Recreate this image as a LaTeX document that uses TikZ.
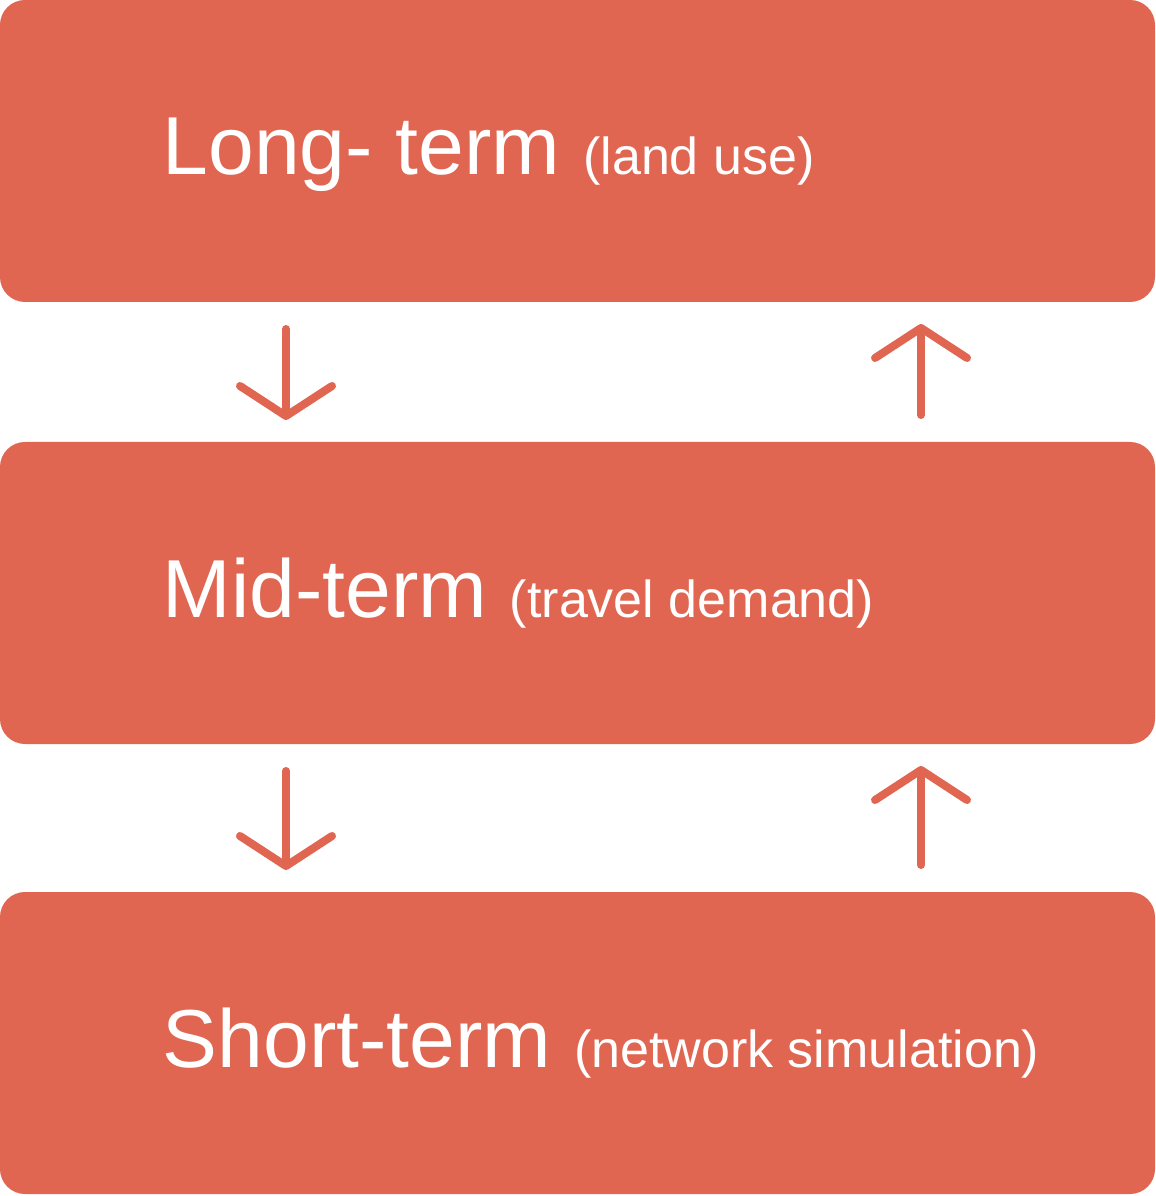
\documentclass[tikz,border=0pt]{standalone}
\usepackage{fontspec}
\setmainfont{Liberation Sans}
\usetikzlibrary{arrows.meta, positioning}
\definecolor{termred}{RGB}{224,102,81}
\newcommand{\subtxt}[1]{{\fontsize{14.8}{16}\selectfont #1}}

\begin{document}
\begin{tikzpicture}[
    node distance=1.4cm,
    box/.style={rectangle, fill=termred, rounded corners=0.25cm, minimum width=11.55cm, minimum height=3.02cm, inner sep=0pt, outer sep=0pt},
    title/.style={text=white, font=\fontsize{23.4}{26}\selectfont, inner sep=0pt, anchor=base west},
    arrow/.style={-{Straight Barb[length=3mm, width=9.2mm, line cap=round, line join=round]}, line width=0.8mm, line cap=round, draw=termred, shorten <=2.7mm, shorten >=2.2mm}
]
\useasboundingbox (0,0) rectangle (11.55,-11.96);

\node[box] (long) at (5.775,-1.51) {};
\node[box, below=1.40cm of long] (mid) {};
\node[box, below=1.48cm of mid] (short) {};

\node[title] (longtxt) at ([xshift=1.62cm, yshift=-0.24cm]long.west) {Long- term \subtxt{(land use)}};
\node[title] (midtxt) at ([xshift=1.62cm, yshift=-0.24cm]mid.west) {Mid-term \subtxt{(travel demand)}};
\node[title] (shorttxt) at ([xshift=1.62cm, yshift=-0.24cm]short.west) {Short-term \subtxt{(network simulation)}};

\draw[arrow] ([xshift=2.86cm]long.south west) -- ([xshift=2.86cm]mid.north west);
\draw[arrow] ([xshift=9.21cm]mid.north west) -- ([xshift=9.21cm]long.south west);
\draw[arrow] ([xshift=2.86cm]mid.south west) -- ([xshift=2.86cm]short.north west);
\draw[arrow] ([xshift=9.21cm]short.north west) -- ([xshift=9.21cm]mid.south west);

\end{tikzpicture}
\end{document}
